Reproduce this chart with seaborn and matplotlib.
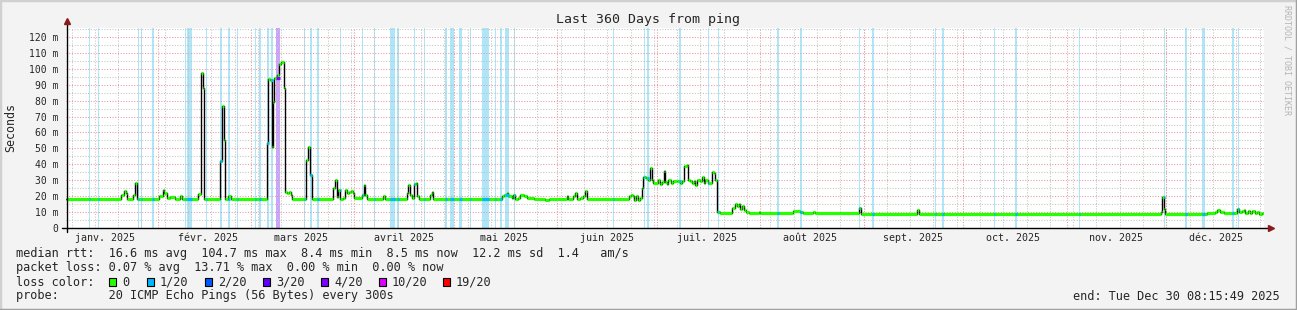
import numpy as np
import pandas as pd
import matplotlib
matplotlib.use("Agg")
import matplotlib.pyplot as plt
import seaborn as sns
from matplotlib.patches import Rectangle
from matplotlib.lines import Line2D

# ---------------- data ----------------
END = pd.Timestamp("2025-12-30 08:15:49")
SPAN_DAYS = 360
START = END - pd.Timedelta(days=SPAN_DAYS)

# median rtt (ms) as a step series: value holds from day offset until next one
median_day = [0, 16.5, 17.4, 18.0, 18.4, 20.2, 20.7, 21.3, 28.0, 29.2, 29.5, 30.3, 31.3, 32.8,
              34.3, 34.8, 39.8, 40.5, 41.3, 41.5, 46.3, 46.8, 47.5, 47.7, 48.8, 49.6,
              60.3, 60.8, 61.4, 61.9, 62.3, 62.6, 63.5, 64.1, 64.7, 65.5, 65.8, 66.3, 67.1,
              67.6, 68.0, 72.1, 72.8, 73.3, 73.9, 80.3, 80.9, 81.4, 81.8, 82.4, 83.3, 83.9,
              84.4, 85.1, 85.6, 86.1, 86.6, 88.9, 89.4, 89.9, 90.4, 95.4, 95.9, 102.4,
              102.9, 103.4, 103.9, 104.7, 105.2, 105.6, 106.1, 109.4, 109.9, 110.4, 131.0,
              131.6, 132.5, 132.9, 134.0, 134.4, 135.0, 135.9, 136.5, 137.5, 138.5, 140.5,
              144.0, 145.0, 150.5, 151.0, 152.5, 153.0, 153.5, 154.5, 155.5, 156.0, 156.5,
              169.3, 169.8, 170.3, 170.8, 171.3, 171.8, 172.5, 173.0, 173.5, 174.3, 175.0,
              175.5, 176.0, 176.5, 178.0, 178.5, 179.1, 179.7, 180.0, 180.6, 181.0, 181.8,
              182.5, 183.6, 184.6, 185.1, 185.8, 186.6, 187.0, 187.6, 188.1, 188.6, 189.1,
              189.6, 190.6, 191.1, 191.6, 192.1, 192.8, 194.1, 194.6, 195.1, 195.6,
              196.6, 200.1, 200.9, 201.6, 202.1, 202.6, 203.1, 203.6, 204.4, 205.1, 208.1,
              208.6, 218.6, 220.6, 221.5, 224.6, 225.1, 238.4, 238.9, 255.7, 256.4, 329.0,
              329.3, 329.8, 330.1, 330.4, 342.9, 345.4, 345.9, 346.9, 347.9, 351.9, 352.4,
              353.4, 353.9, 354.4, 355.1, 355.9, 356.4, 357.4, 357.9, 358.4, 359.4]
median_ms = [18, 20.7, 23.3, 21.8, 18, 21, 28, 18, 20.3, 24, 21.8, 18.6, 19.2, 18,
             20, 18, 21.5, 97.6, 87.8, 18, 42.3, 76.6, 55.3, 18, 20, 18,
             53.4, 93.4, 93, 50.7, 79.4, 94, 96, 102.8, 104.5, 87.8, 22.8, 22, 22.8,
             21, 18, 42.7, 50.7, 33.3, 18, 25, 30, 19.7, 23.9, 18, 19, 23.9,
             21.8, 22.6, 23.2, 21.8, 19, 21, 27, 21, 18, 20, 18, 21.8,
             27, 21, 19, 27.5, 28, 20, 18, 21, 22.4, 18, 20,
             21, 21.8, 20, 19, 21, 18, 19, 21, 20.4, 19, 18.4,
             17.4, 18, 20, 18, 20, 22.2, 18, 18.6, 20, 23.2, 18,
             20, 21, 20, 17.6, 20, 17.6, 18.6, 25, 32.2, 31.2, 30,
             37.5, 30.2, 28.5, 30, 27.7, 29, 36, 29, 27.7, 30, 28.5,
             29.3, 29.5, 28, 29.5, 39, 39.6, 30, 29.3, 28, 29.3, 27.3,
             30, 29.3, 32, 28, 30, 28, 35.4, 34.8, 30, 10.3,
             9.6, 12.4, 15, 13.6, 15, 11.9, 13.6, 11.3, 10.3, 9.6, 10.3,
             9.6, 10.7, 10, 9.4, 9.8, 9.4, 12.4, 9.0, 11.3, 9.0, 10.3,
             19.7, 19.4, 11.7, 8.8, 9.2, 10, 11.3, 10, 9.2, 12.2, 10,
             10.7, 11.5, 9.6, 10.6, 9.6, 10.6, 9.6, 10.3, 8.8, 9.6]

# packet-loss periods: start day offset, duration (days), lost pings out of 20
loss_day = [6.9, 9.5, 21.6, 22.4, 25.9, 35.8, 36.4, 42.0, 46.3, 48.6, 51.5, 56.9, 58.1,
            60.3, 61.5, 63.1, 71.5, 73.3, 75.5, 82.2, 89.0, 92.6, 97.4, 99.4, 104.7,
            107.7, 113.9, 115.4, 118.0, 121.4, 125.0, 129.0, 130.5, 131.9, 134.5, 164.3,
            173.8, 174.7, 184.3, 192.8, 195.8, 213.8, 220.6, 238.4, 242.2, 261.0, 263.3,
            279.0, 285.2, 304.5, 330.0, 336.3, 341.5, 350.5, 352.1]
loss_len = [0.3, 0.3, 0.4, 0.4, 0.5, 0.3, 1.4, 0.3, 0.5, 0.7, 0.3, 0.3, 0.4, 0.8, 0.8,
            1.2, 0.3, 0.5, 0.5, 0.3, 0.3, 0.3, 1.5, 0.6, 0.3, 0.3, 0.5, 1.2, 1.0, 0.3,
            2.1, 0.3, 0.4, 1.2, 0.3, 0.3, 0.3, 0.4, 0.6, 0.4, 0.4, 0.5, 0.5, 0.3, 0.6,
            0.3, 0.5, 0.3, 0.5, 0.3, 0.4, 0.6, 0.8, 0.6, 0.4]
loss_count = [1, 1, 1, 1, 1, 1, 1, 1, 1, 1, 1, 1, 1, 1, 1, 4, 1, 1, 1, 1, 1, 1, 1, 1, 1,
              1, 1, 1, 1, 1, 1, 1, 1, 1, 1, 1, 1, 1, 1, 1, 1, 1, 1, 1, 1, 1, 1, 1, 1, 1,
              1, 1, 1, 1, 1]

loss_labels = ["0", "1/20", "2/20", "3/20", "4/20", "10/20", "19/20"]
loss_steps = [0, 1, 2, 3, 4, 10, 19]
loss_colors = ["#26ff00", "#00b8ff", "#0059ff", "#5e00ff", "#7e00ff", "#dd00ff", "#ff0000"]
loss_bg = {1: "#ade6f8", 2: "#a9c4fb", 3: "#c2a8fa", 4: "#c9a6f7"}

month_names = ["janv.", "févr.", "mars", "avril", "mai", "juin", "juil.", "août",
               "sept.", "oct.", "nov.", "déc."]
YEAR = 2025

title = "Last 360 Days from ping"
ylabel = "Seconds"
stats_rtt = "median rtt:  16.6 ms avg  104.7 ms max  8.4 ms min  8.5 ms now  12.2 ms sd  1.4   am/s"
stats_loss = "packet loss: 0.07 % avg  13.71 % max  0.00 % min  0.00 % now"
probe_txt = "probe:       20 ICMP Echo Pings (56 Bytes) every 300s"
end_txt = "end: Tue Dec 30 08:15:49 2025"
credit = "RRDTOOL / TOBI OETIKER"

# ---------------- style ----------------
sns.set_style("white")
plt.rcParams['font.family'] = ['DejaVu Sans Mono', 'DejaVu Sans']

W, H = 1297, 310
fig = plt.figure(figsize=(W / 100, H / 100), dpi=100, facecolor="#f3f3f3")
ax = fig.add_axes([66 / W, (H - 228) / H, 1198 / W, 200 / H])
ax.set_facecolor("white")
YMAX = 125.65
ax.set_xlim(0, SPAN_DAYS)
ax.set_ylim(0, YMAX)

def day_of(ts):
    return (ts - START) / pd.Timedelta(days=1)

# loss background bands
for d, w, c in zip(loss_day, loss_len, loss_count):
    ax.axvspan(d, d + w, color=loss_bg[c], lw=0, zorder=1)

# grid
GRAY = "#c4c4c4"
RED = "#e79a9a"
dots = (0, (1.0, 1.6))
weeks = [day_of(t) for t in pd.date_range(START.normalize(), END, freq="W-MON")]
for x in weeks:
    ax.axvline(x, color=GRAY, lw=0.75, ls=dots, zorder=2)
months = [day_of(t) for t in pd.date_range(f"{YEAR}-02-01", f"{YEAR}-12-01", freq="MS")]
for x in months:
    ax.axvline(x, color=RED, lw=0.75, ls=dots, zorder=2)
for v in np.arange(5, YMAX, 5):
    ax.axhline(v, color=RED if v % 10 == 0 else GRAY, lw=0.75, ls=dots, zorder=2)

# median line
days_ext = list(median_day) + [SPAN_DAYS]
vals_ext = list(median_ms) + [median_ms[-1]]
df = pd.DataFrame({"day": days_ext, "ms": vals_ext})
sns.lineplot(data=df, x="day", y="ms", drawstyle="steps-post", color="black", lw=1.0,
             estimator=None, sort=False, ax=ax, zorder=3)
ax.hlines(median_ms, median_day, days_ext[1:], color=loss_colors[0], lw=2.3, zorder=4)

# loss-coloured pieces of the median
med_day_arr = np.array(median_day)
for d, w, c in zip(loss_day, loss_len, loss_count):
    i = np.searchsorted(med_day_arr, d, side="right") - 1
    ax.hlines(median_ms[i], d, d + w, color=loss_colors[loss_steps.index(c)], lw=2.3, zorder=5)

# axes
for s in ax.spines.values():
    s.set_visible(False)
ax.plot([-0.003, 1.005], [0, 0], transform=ax.transAxes, color="black", lw=1.0,
        clip_on=False, zorder=6)
ax.plot([0.0008, 0.0008], [-0.02, 1.03], transform=ax.transAxes, color="black", lw=1.0,
        clip_on=False, zorder=6)
ax.plot([1.006], [0], marker=">", ms=4, color="#8b1a1a", transform=ax.transAxes,
        clip_on=False, zorder=7)
ax.plot([0.0008], [1.035], marker="^", ms=4, color="#8b1a1a", transform=ax.transAxes,
        clip_on=False, zorder=7)

yt = np.arange(0, 121, 10)
ax.set_yticks(yt)
ax.set_yticklabels(["0"] + [f"{v} m" for v in yt[1:]], fontsize=7)
ax.tick_params(axis="y", length=0, pad=5.5)

ax.set_xticks(months)
ax.set_xticklabels([])
ax.tick_params(axis="x", which="major", length=3, color="#e05050", direction="out", width=0.8)
mid = [day_of(pd.Timestamp(YEAR, m, 16)) for m in range(1, 13)]
ax.set_xticks(mid, minor=True)
ax.set_xticklabels([f"{n} {YEAR}" for n in month_names], minor=True, fontsize=7.2)
ax.tick_params(axis="x", which="minor", length=0, pad=3.5)
ax.set_xlabel("")
ax.set_ylabel("")

# texts
def fx(px):
    return px / W

def fy(py):
    return 1 - py / H

fig.text(0.5, fy(19), title, ha="center", va="center", fontsize=9.5)
fig.text(fx(11), fy(128), ylabel, rotation=90, ha="center", va="center", fontsize=8.4)
fig.text(fx(1287), fy(5), credit, rotation=270, ha="center", va="top", fontsize=6,
         color="#b5b5b5")

FS = 8.55
fig.text(fx(16), fy(254), stats_rtt, ha="left", va="center", fontsize=FS)
fig.text(fx(16), fy(268), stats_loss, ha="left", va="center", fontsize=FS)
fig.text(fx(16), fy(282), "loss color:", ha="left", va="center", fontsize=FS)
box_x = [109, 147, 205, 263, 321, 379, 443]
for bx, lab, col in zip(box_x, loss_labels, loss_colors):
    fig.add_artist(Rectangle((fx(bx), fy(286)), 7 / W, 8 / H, transform=fig.transFigure,
                             facecolor=col, edgecolor="black", lw=0.8))
    fig.text(fx(bx + 13), fy(282), lab, ha="left", va="center", fontsize=FS)
fig.text(fx(16), fy(296), probe_txt, ha="left", va="center", fontsize=FS)
fig.text(fx(1280), fy(296), end_txt, ha="right", va="center", fontsize=FS)

# frame
fig.add_artist(Line2D([0, 0], [0, 1], transform=fig.transFigure, color="#d0d0d0", lw=2.5))
fig.add_artist(Line2D([0, 1], [1, 1], transform=fig.transFigure, color="#d0d0d0", lw=2.5))
fig.add_artist(Line2D([1, 1], [0, 1], transform=fig.transFigure, color="#a0a0a0", lw=2.5))
fig.add_artist(Line2D([0, 1], [0, 0], transform=fig.transFigure, color="#a0a0a0", lw=2.5))

fig.savefig("out.png", dpi=100, facecolor=fig.get_facecolor())
